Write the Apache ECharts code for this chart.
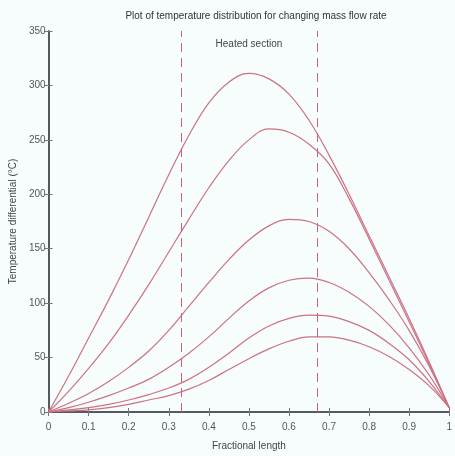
<!DOCTYPE html>
<html>
<head>
<meta charset="utf-8">
<script src="https://cdn.jsdelivr.net/npm/echarts@6/dist/echarts.min.js"></script>
<style>
  html, body { margin: 0; padding: 0; background: #f7fcfd; }
  #chart { width: 455px; height: 456px; }
</style>
</head>
<body>
<div id="chart"></div>
<script>
// fractional length samples
var xs = [0, 0.05, 0.1, 0.15, 0.2, 0.25, 0.3, 0.35, 0.4, 0.45, 0.5, 0.55, 0.6, 0.65, 0.7, 0.75, 0.8, 0.85, 0.9, 0.95, 1.0];

// temperature differential, one array per mass flow rate
var flow1 = [0, 33, 68, 103, 140, 179, 218, 254, 284, 303, 311, 306, 292, 268, 236, 200, 162, 124, 86, 46, 4];
var flow2 = [0, 19, 40, 63, 89, 117, 147, 177, 206, 231, 250, 260, 257, 246, 228, 196, 159, 121, 83, 44, 4];
var flow3 = [0, 8, 17, 28, 41, 56, 75, 97, 119, 140, 158, 171, 177, 175, 166, 150, 128, 103, 75, 42, 4];
var flow4 = [0, 4, 9, 15, 22, 30, 41, 54, 69, 86, 102, 114, 121, 123, 119, 110, 97, 80, 59, 34, 4];
var flow5 = [0, 2, 4, 7, 11, 16, 22, 30, 41, 54, 68, 79, 86, 89, 88, 83, 75, 63, 48, 28, 4];
var flow6 = [0, 1, 2, 4, 7, 11, 15, 21, 29, 39, 49, 58, 65, 69, 69, 66, 60, 51, 39, 24, 4];

var xTicks = ["0", "0.1", "0.2", "0.3", "0.4", "0.5", "0.6", "0.7", "0.8", "0.9", "1"];
var heated = [1 / 3, 2 / 3];

var font = '"Liberation Sans Narrow", "Liberation Sans", Arial, sans-serif';
var lineCol = "#cc7282";
var axisCol = "#4a4f57";

function pairs(ys) {
    return xs.map(function (x, i) { return [x, ys[i]]; });
}

var all = [flow1, flow2, flow3, flow4, flow5, flow6];

var series = all.map(function (ys, k) {
    var s = {
        type: "line",
        data: pairs(ys),
        smooth: 0.4,
        showSymbol: false,
        lineStyle: { color: lineCol, width: 1.2 },
        z: 3
    };
    if (k === 0) {
        s.markLine = {
            silent: true,
            symbol: "none",
            label: { show: false },
            lineStyle: { color: "#d0607a", type: [9, 6], width: 1 },
            data: heated.map(function (h) { return { xAxis: h }; })
        };
        s.markArea = {
            silent: true,
            itemStyle: { color: "rgba(0,0,0,0)" },
            label: {
                show: true, position: "insideTop", distance: 8,
                color: "#444", fontSize: 10, fontFamily: font
            },
            data: [[{ name: "Heated section", xAxis: heated[0] }, { xAxis: heated[1] }]]
        };
    }
    return s;
});

var myChart = echarts.init(document.getElementById("chart"));

var option = {
    backgroundColor: "#f7fcfd",
    animation: false,
    title: {
        text: "Plot of temperature distribution for changing mass flow rate",
        left: 251, textAlign: "center", top: 6,
        textStyle: { fontSize: 10, fontWeight: "normal", color: "#333", fontFamily: font }
    },
    grid: { left: 47, right: 3, top: 31, bottom: 42 },
    xAxis: [{
        type: "value", min: 0, max: 1, interval: 0.1,
        name: "Fractional length", nameLocation: "middle", nameGap: 29,
        nameTextStyle: { fontSize: 10, color: "#444", fontFamily: font },
        axisLine: { lineStyle: { color: axisCol, width: 1.5 } },
        axisTick: { inside: true, length: 4, lineStyle: { color: "#777" } },
        axisLabel: {
            color: "#555", fontSize: 10, fontFamily: font, margin: 10,
            formatter: function (v) { return xTicks[Math.round(v * 10)]; }
        },
        splitLine: { show: false }
    }, {
        type: "value", min: 0, max: 1, interval: 0.1, position: "top",
        axisLine: { lineStyle: { color: axisCol, width: 1.5 } },
        axisTick: { inside: true, length: 4, lineStyle: { color: "#777" } },
        axisLabel: { show: false },
        splitLine: { show: false }
    }],
    yAxis: [{
        type: "value", min: 0, max: 350, interval: 50,
        name: "Temperature differential (°C)", nameLocation: "middle", nameGap: 25,
        nameTextStyle: { fontSize: 10, color: "#444", fontFamily: font },
        axisLine: { show: true, lineStyle: { color: axisCol, width: 1.5 } },
        axisTick: { show: true, inside: true, length: 4, lineStyle: { color: "#777" } },
        axisLabel: { color: "#555", fontSize: 10, fontFamily: font, margin: 3 },
        splitLine: { show: false }
    }, {
        type: "value", min: 0, max: 350, interval: 50, position: "right",
        axisLine: { show: true, lineStyle: { color: axisCol, width: 1.5 } },
        axisTick: { show: true, inside: true, length: 4, lineStyle: { color: "#777" } },
        axisLabel: { show: false },
        splitLine: { show: false }
    }],
    series: series
};

option && "object" == typeof option && myChart.setOption(option, true);
</script>
</body>
</html>
